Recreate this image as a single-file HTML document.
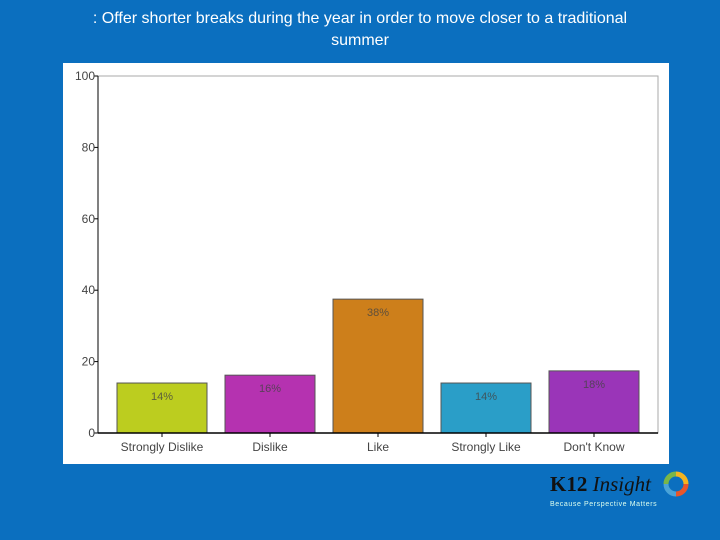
<!DOCTYPE html>
<html><head><meta charset="utf-8"><style>
body{margin:0;width:720px;height:540px;background:#0b6fbf;overflow:hidden;font-family:"Liberation Sans",sans-serif;position:relative}
#title{position:absolute;left:0;top:8px;width:720px;text-align:center;color:#fff;font-size:16px;line-height:22px}
#panel{position:absolute;left:63px;top:63px;width:606px;height:401px;background:#fff}
svg{position:absolute;left:0;top:0}
</style></head><body>
<div id="title">: Offer shorter breaks during the year in order to move closer to a traditional<br>summer</div>
<div id="panel"></div>
<svg id="chart" width="720" height="540"></svg>
<div style="position:absolute;left:550px;top:472px;">
<span style="font-family:'Liberation Serif',serif;font-size:21px;font-weight:bold;color:#111">K12 </span><span style="font-family:'Liberation Serif',serif;font-size:21px;font-style:italic;color:#111">Insight</span>
<div style="font-size:7px;color:#dfe;letter-spacing:0.6px;margin-top:4px">Because Perspective Matters</div>
</div>
<svg width="720" height="540">
<g fill="none" stroke-width="5">
<path d="M676 474 A10 10 0 0 1 686 484" stroke="#f4b320"/>
<path d="M686 484 A10 10 0 0 1 676 494" stroke="#e8562a"/>
<path d="M676 494 A10 10 0 0 1 666 484" stroke="#4aa3d8"/>
<path d="M666 484 A10 10 0 0 1 676 474" stroke="#7ab648"/>
</g></svg>
<script>
const categories=["Strongly Dislike","Dislike","Like","Strongly Like","Don't Know"];
const values=[14,16.2,37.5,14,17.4];
const labels=["14%","16%","38%","14%","18%"];
const ticks=[0,20,40,60,80,100];
const colors=["#bccd1f","#b532b0","#cd7f1b","#2a9ec8","#9a35b8"];
const svg=document.getElementById('chart');
const NS="http://www.w3.org/2000/svg";
const x0=98,x1=658,y0=433,y1=76;
const ys=v=>y0-(v/100)*(y0-y1);
const step=108,xStart=108;
const xc=i=>xStart+step*(i+0.5);
function mk(t,a){const e=document.createElementNS(NS,t);for(const k in a)e.setAttribute(k,a[k]);svg.appendChild(e);return e;}
let fr=mk('rect',{x:x0,y:y1,width:x1-x0,height:y0-y1,fill:'none',stroke:'#aaa'});


ticks.forEach(t=>{
 const l=mk('line',{x1:x0-4,x2:x0,y1:ys(t),y2:ys(t),stroke:'#000'});
 
 
 const tx=mk('text',{x:x0-3,y:ys(t)+4,'text-anchor':'end','font-size':12,fill:'#444'});
 tx.textContent=t;
 
 
});
categories.forEach((c,i)=>{
 const w=90,cx=xc(i);
 const r=mk('rect',{x:cx-w/2,y:ys(values[i]),width:w,height:y0-ys(values[i]),fill:colors[i],stroke:'#555','stroke-width':1});
 
 
 const lb=mk('text',{x:cx,y:ys(values[i])+17,'text-anchor':'middle','font-size':11,fill:'#444','fill-opacity':0.8});
 lb.textContent=labels[i];
 
 
 const tk=mk('line',{x1:cx,x2:cx,y1:y0,y2:y0+4,stroke:'#000'});
 
 
 const cl=mk('text',{x:cx,y:y0+18,'text-anchor':'middle','font-size':12,fill:'#444'});
 cl.textContent=c;
 
 
});
const ax=mk('line',{x1:x0,x2:x0,y1:y1,y2:y0,stroke:'#000'});


const bx=mk('line',{x1:x0,x2:x1,y1:y0,y2:y0,stroke:'#000','stroke-width':1.5});


</script>
</body></html>
